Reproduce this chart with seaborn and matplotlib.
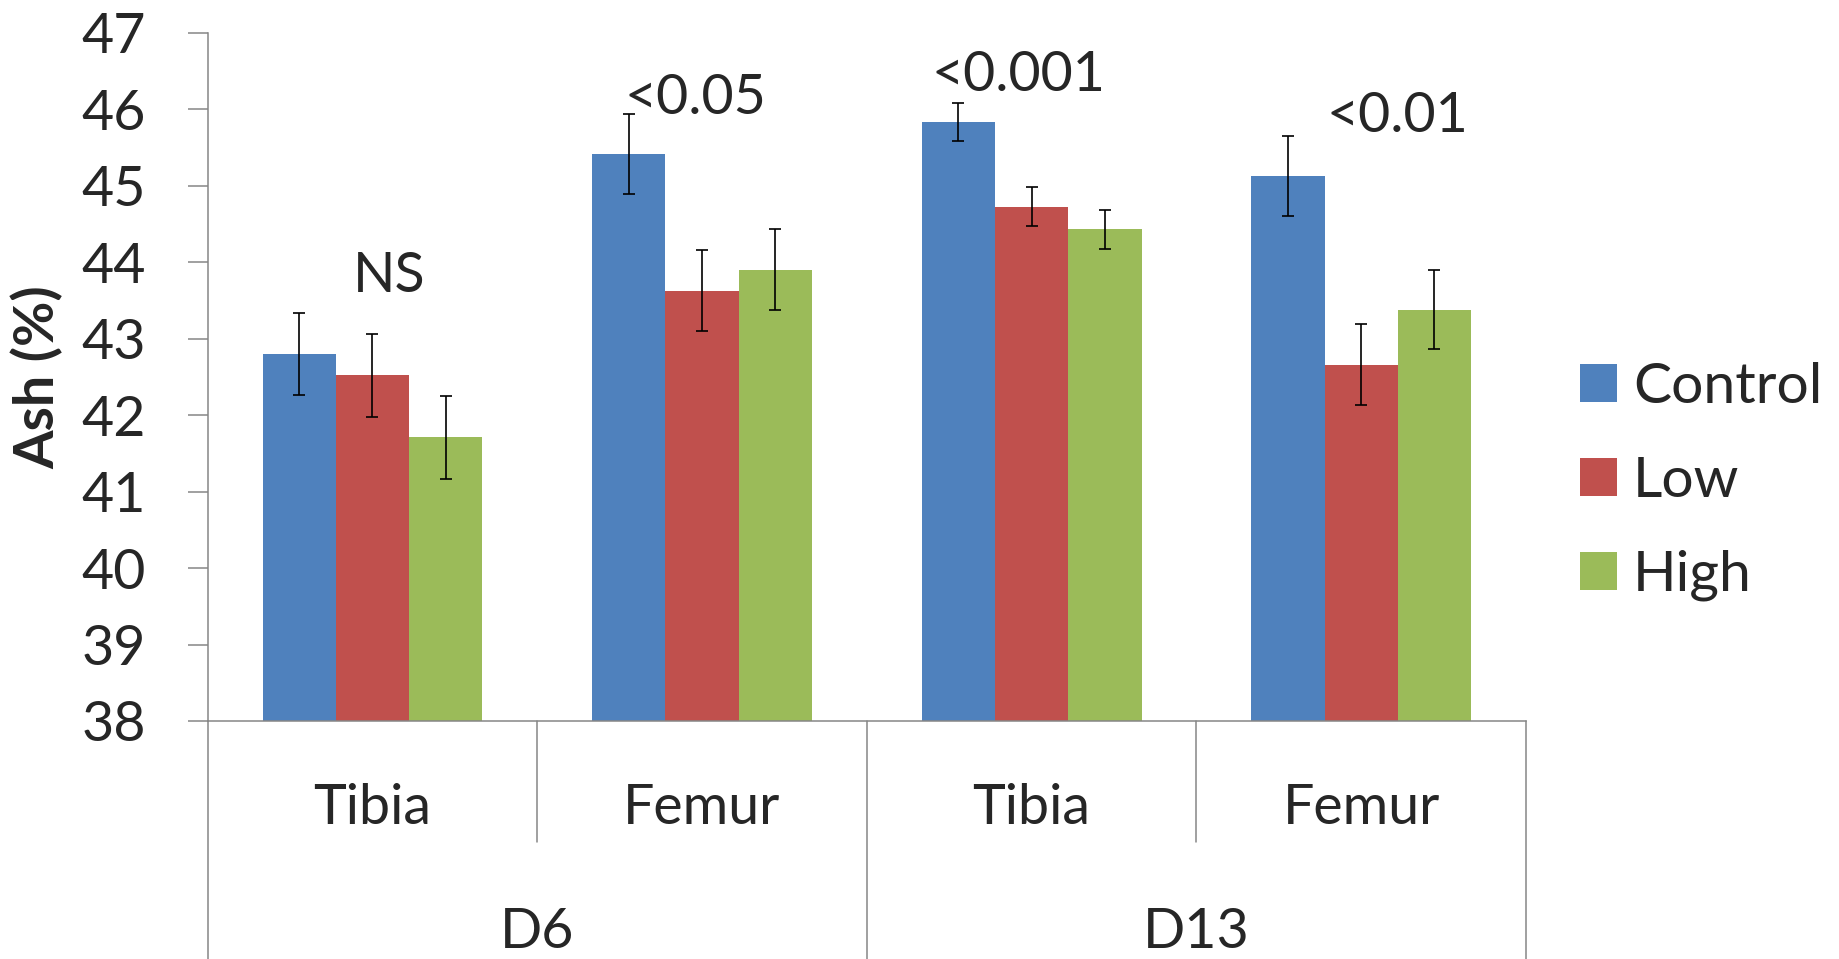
import pandas as pd
import matplotlib
matplotlib.use("Agg")
import matplotlib.pyplot as plt
import matplotlib.transforms as mtransforms
from matplotlib.patches import Patch
import seaborn as sns

# values
groups = ["D6-Tibia", "D6-Femur", "D13-Tibia", "D13-Femur"]
bones = ["Tibia", "Femur", "Tibia", "Femur"]
days = ["D6", "D13"]
treatments = ["Control", "Low", "High"]

control = [42.80, 45.42, 45.84, 45.13]
low = [42.52, 43.63, 44.73, 42.66]
high = [41.71, 43.90, 44.43, 43.38]
control_err = [0.54, 0.52, 0.25, 0.52]
low_err = [0.54, 0.53, 0.25, 0.53]
high_err = [0.54, 0.53, 0.25, 0.52]

p_labels = ["NS", "<0.05", "<0.001", "<0.01"]
p_x = [0.05, -0.02, -0.04, 0.11]
p_y = [43.81, 46.14, 46.45, 45.91]

colors = ["#4F81BD", "#C0504D", "#9BBB59"]
axis_grey = "#868686"

sns.set_style("white")
plt.rcParams["font.family"] = ["Lato", "DejaVu Sans"]

# long table for seaborn
rows = []
for vals, errs, trt in zip([control, low, high], [control_err, low_err, high_err], treatments):
    for g, v, e in zip(groups, vals, errs):
        rows.append({"group": g, "treatment": trt, "ash": v, "err": e})
df = pd.DataFrame(rows)

fig = plt.figure(figsize=(18.39, 9.59), dpi=100)
ax = fig.add_axes([0.1129, 0.2482, 0.8298 - 0.1129, 0.9656 - 0.2482])

sns.barplot(data=df, x="group", y="ash", hue="treatment", order=groups,
            hue_order=treatments, palette=colors, saturation=1, width=0.667,
            errorbar=None, legend=False, linewidth=0, ax=ax)

# error bars on each bar
for cont, trt in zip(ax.containers, treatments):
    sub = df[df["treatment"] == trt].set_index("group").loc[groups]
    xs = [b.get_x() + b.get_width() / 2 for b in cont]
    ax.errorbar(xs, sub["ash"], yerr=sub["err"], fmt="none", ecolor="black",
                elinewidth=1.2, capsize=4.5, capthick=1.2, zorder=5)

ax.set_ylim(38, 47)
ax.set_xlim(-0.5, 3.5)
ax.set_yticks(range(38, 48))
ax.tick_params(axis="y", labelsize=40, length=14.4, width=1.1, color=axis_grey,
               direction="out", pad=30, left=True)
ax.tick_params(axis="x", length=0, labelbottom=False)
ax.set_xlabel("")
ax.set_ylabel("Ash (%)", fontsize=40, fontweight="bold")
ax.yaxis.set_label_coords(-0.109, 0.5)

for s in ["top", "right"]:
    ax.spines[s].set_visible(False)
for s in ["left", "bottom"]:
    ax.spines[s].set_color(axis_grey)
    ax.spines[s].set_linewidth(1.1)

# two-level category axis
trans = mtransforms.blended_transform_factory(ax.transData, ax.transAxes)
for i, b in enumerate(bones):
    ax.text(i, -0.1275, b, transform=trans, ha="center", va="center", fontsize=40)
for j, d in enumerate(days):
    ax.text(2 * j + 0.5, -0.307, d, transform=trans, ha="center", va="center", fontsize=40)
for xb in [-0.5, 1.5, 3.5]:
    ax.plot([xb, xb], [0, -0.35], transform=trans, color=axis_grey, lw=1.1, clip_on=False)
for xb in [0.5, 2.5]:
    ax.plot([xb, xb], [0, -0.176], transform=trans, color=axis_grey, lw=1.1, clip_on=False)

# significance labels
for i, (lab, dx, y) in enumerate(zip(p_labels, p_x, p_y)):
    ax.text(i + dx, y, lab, ha="center", va="center", fontsize=40)

handles = [Patch(facecolor=c, edgecolor="none", label=t) for c, t in zip(colors, treatments)]
fig.legend(handles=handles, loc="center left", bbox_to_anchor=(0.859, 0.4975),
           frameon=False, fontsize=41, handlelength=0.65, handleheight=0.65,
           handletextpad=0.29, labelspacing=0.75, borderpad=0, borderaxespad=0)

fig.savefig("out.png", dpi=100)
